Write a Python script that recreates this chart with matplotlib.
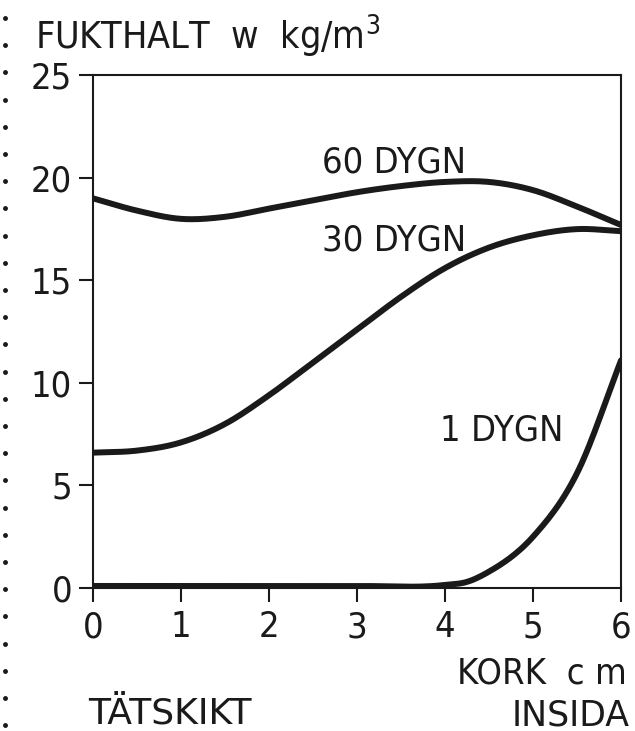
import matplotlib
matplotlib.use("Agg")
import matplotlib.pyplot as plt
import numpy as np

plt.rcParams['font.family'] = ['DejaVu Sans']
plt.rcParams['font.stretch'] = 'condensed'

# thickness in cm
x = [0, 0.5, 1, 1.5, 2, 2.5, 3, 3.5, 4, 4.5, 5, 5.5, 6]
# moisture content kg/m3
dygn60 = [19.0, 18.4, 18.0, 18.1, 18.5, 18.9, 19.3, 19.6, 19.8, 19.8, 19.4, 18.6, 17.7]
dygn30 = [6.6, 6.7, 7.1, 8.0, 9.4, 11.0, 12.6, 14.2, 15.6, 16.6, 17.2, 17.5, 17.4]
x1 = [0, 1, 2, 3, 4, 4.25, 4.5, 5, 5.5, 6]
dygn1 = [0.1, 0.1, 0.1, 0.1, 0.15, 0.3, 0.8, 2.5, 5.6, 11.1]

ink = '#1a1a1a'

fig = plt.figure(figsize=(6.35, 7.31), dpi=100)
ax = fig.add_axes([0.1465, 0.1956, 0.8315, 0.7014])

def smooth(xs, ys):
    xs = np.asarray(xs, float)
    ys = np.asarray(ys, float)
    xn = np.linspace(xs[0], xs[-1], 300)
    out = np.empty_like(xn)
    m = np.gradient(ys, xs)
    for i in range(len(xs) - 1):
        a, b = xs[i], xs[i + 1]
        sel = (xn >= a) & (xn <= b)
        h = b - a
        t = (xn[sel] - a) / h
        h00 = 2*t**3 - 3*t**2 + 1
        h10 = t**3 - 2*t**2 + t
        h01 = -2*t**3 + 3*t**2
        h11 = t**3 - t**2
        out[sel] = h00*ys[i] + h10*h*m[i] + h01*ys[i+1] + h11*h*m[i+1]
    return xn, out

for xs, ys in [(x, dygn60), (x, dygn30), (x1, dygn1)]:
    xs_, ys_ = smooth(xs, ys)
    ax.plot(xs_, ys_, color=ink, lw=4.3, solid_capstyle='round')

ax.set_xlim(0, 6)
ax.set_ylim(0, 25)
ax.set_xticks(range(0, 7))
ax.set_yticks([0, 5, 10, 15, 20, 25])
for s in ax.spines.values():
    s.set_linewidth(1.5)
    s.set_color(ink)
ax.tick_params(direction='out', length=10, width=1.5, labelsize=26,
               colors=ink)
ax.tick_params(axis='y', pad=5)
ax.tick_params(axis='x', pad=6)

ax.text(2.6, 20.27, '60 DYGN', fontsize=26, va='baseline', ha='left', color=ink)
ax.text(2.6, 16.47, '30 DYGN', fontsize=26, va='baseline', ha='left', color=ink)
ax.text(3.94, 7.2, '1 DYGN', fontsize=26, va='baseline', ha='left', color=ink)

fig.text(35/635, 1 - 50/731, 'FUKTHALT  w  kg/m$^3$', fontsize=27, va='baseline',
         ha='left', color=ink)
fig.text(627/635, 1 - 683/731, 'KORK  c m', fontsize=26, va='baseline', ha='right',
         color=ink)
fig.text(88/635, 1 - 724/731, 'TÄTSKIKT', fontsize=26, va='baseline', ha='left',
         color=ink, fontstretch='normal')
fig.text(630/635, 1 - 725/731, 'INSIDA', fontsize=25, va='baseline', ha='right',
         color=ink, fontstretch='normal')

# dotted margin on the left
dots_y = np.arange(18, 731, 27.2)
fig.lines.append(plt.Line2D([5/635] * len(dots_y), 1 - dots_y/731, ls='none',
                            marker='o', ms=2.5, color=ink,
                            transform=fig.transFigure))

fig.savefig('out.png', dpi=100)
